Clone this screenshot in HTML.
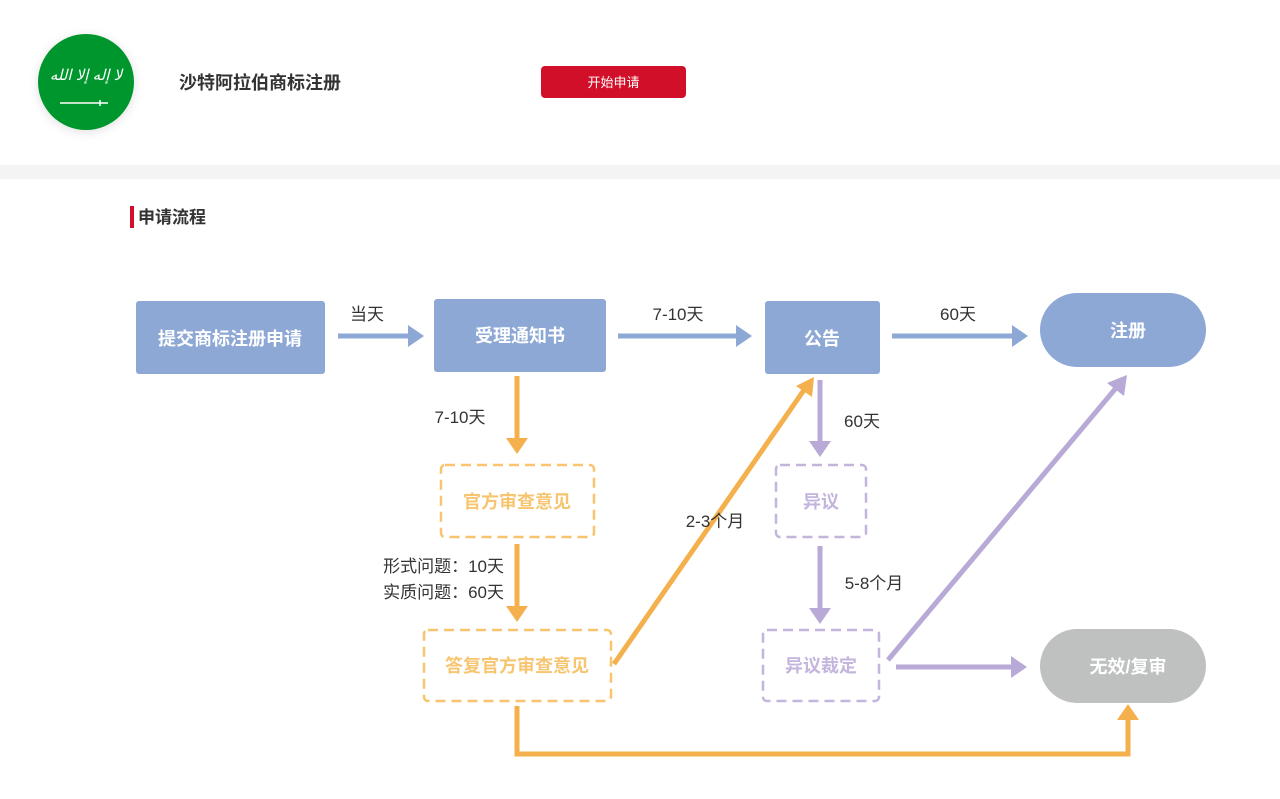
<!DOCTYPE html>
<html><head><meta charset="utf-8"><style>
html,body{margin:0;padding:0;background:#fff;}
body{width:1280px;height:794px;overflow:hidden;font-family:"Liberation Sans","Noto Sans CJK SC",sans-serif;}
</style></head><body>
<svg width="1280" height="794" viewBox="0 0 1280 794" xmlns="http://www.w3.org/2000/svg" font-family="Liberation Sans, Noto Sans CJK SC, sans-serif">
<defs>
<filter id="sh" x="-40%" y="-40%" width="180%" height="180%"><feDropShadow dx="0" dy="2" stdDeviation="5" flood-color="#000" flood-opacity="0.12"/></filter>
</defs>
<rect x="0" y="165" width="1280" height="14" fill="#f4f4f4"/>
<circle cx="86" cy="82" r="48" fill="#06962f" filter="url(#sh)"/>
<text x="86" y="80" font-size="15" fill="#fff" text-anchor="middle" font-style="italic">ﻻ إله إلا الله</text>
<line x1="60" y1="103" x2="108" y2="103" stroke="#fff" stroke-width="1.5"/>
<line x1="100" y1="100" x2="100" y2="106" stroke="#fff" stroke-width="1.5"/>
<text x="179" y="89" font-size="18" font-weight="bold" fill="#333">沙特阿拉伯商标注册</text>
<rect x="541" y="66" width="145" height="32" rx="4" fill="#d20f28"/>
<text x="613.5" y="87" font-size="13" fill="#fff" text-anchor="middle">开始申请</text>
<rect x="130" y="206" width="4" height="22" fill="#d20f28"/>
<text x="138" y="223" font-size="17" font-weight="bold" fill="#333">申请流程</text>

<g font-size="18" font-weight="bold" fill="#fff" text-anchor="middle">
<rect x="136" y="301" width="189" height="73" rx="3" fill="#8ea8d6"/>
<text x="230" y="345">提交商标注册申请</text>
<rect x="434" y="299" width="172" height="73" rx="3" fill="#8ea8d6"/>
<text x="520" y="342">受理通知书</text>
<rect x="765" y="301" width="115" height="73" rx="3" fill="#8ea8d6"/>
<text x="822" y="345">公告</text>
<rect x="1040" y="293" width="166" height="74" rx="37" fill="#8ea8d6"/>
<text x="1128" y="337">注册</text>
<rect x="1040" y="629" width="166" height="74" rx="37" fill="#bfc1c1"/>
<text x="1128" y="673">无效/复审</text>
</g>

<g fill="none" stroke-dasharray="10,6" stroke-width="2.5">
<rect x="441" y="465" width="153" height="72" rx="4" stroke="#f7c56f"/>
<rect x="424" y="630" width="187" height="71" rx="4" stroke="#f7c56f"/>
<rect x="776" y="465" width="90" height="72" rx="4" stroke="#c3b5dd"/>
<rect x="763" y="630" width="116" height="71" rx="4" stroke="#c3b5dd"/>
</g>
<g font-size="18" font-weight="bold" text-anchor="middle">
<text x="517" y="508" fill="#f7c56f">官方审查意见</text>
<text x="517" y="672" fill="#f7c56f">答复官方审查意见</text>
<text x="821" y="508" fill="#c3b5dd">异议</text>
<text x="821" y="672" fill="#c3b5dd">异议裁定</text>
</g>

<g stroke="#8ea8d6" stroke-width="5" fill="#8ea8d6">
<line x1="338" y1="336" x2="410" y2="336"/><polygon points="408,325 424,336 408,347" stroke="none"/>
<line x1="618" y1="336" x2="738" y2="336"/><polygon points="736,325 752,336 736,347" stroke="none"/>
<line x1="892" y1="336" x2="1014" y2="336"/><polygon points="1012,325 1028,336 1012,347" stroke="none"/>
</g>
<g stroke="#f5b04e" stroke-width="5" fill="none">
<line x1="517" y1="376" x2="517" y2="440"/>
<line x1="517" y1="544" x2="517" y2="608"/>
<line x1="614" y1="664" x2="804" y2="390"/>
<polyline points="517,706 517,754 1128,754 1128,718"/>
</g>
<g fill="#f5b04e">
<polygon points="506,438 528,438 517,454"/>
<polygon points="506,606 528,606 517,622"/>
<polygon points="796,386 814,377 812,397"/>
<polygon points="1117,720 1139,720 1128,704"/>
</g>
<g stroke="#b9a9d6" stroke-width="5" fill="none">
<line x1="820" y1="380" x2="820" y2="443"/>
<line x1="820" y1="546" x2="820" y2="610"/>
<line x1="888" y1="660" x2="1116" y2="388"/>
<line x1="896" y1="667" x2="1013" y2="667"/>
</g>
<g fill="#b9a9d6">
<polygon points="809,441 831,441 820,457"/>
<polygon points="809,608 831,608 820,624"/>
<polygon points="1107,383 1127,375 1124,396"/>
<polygon points="1011,656 1027,667 1011,678"/>
</g>

<g font-size="17" fill="#333">
<text x="367" y="320" text-anchor="middle">当天</text>
<text x="678" y="320" text-anchor="middle">7-10天</text>
<text x="958" y="320" text-anchor="middle">60天</text>
<text x="460" y="423" text-anchor="middle">7-10天</text>
<text x="504" y="572" text-anchor="end">形式问题：10天</text>
<text x="504" y="598" text-anchor="end">实质问题：60天</text>
<text x="715" y="527" text-anchor="middle">2-3个月</text>
<text x="862" y="427" text-anchor="middle">60天</text>
<text x="874" y="589" text-anchor="middle">5-8个月</text>
</g>
</svg>
</body></html>
